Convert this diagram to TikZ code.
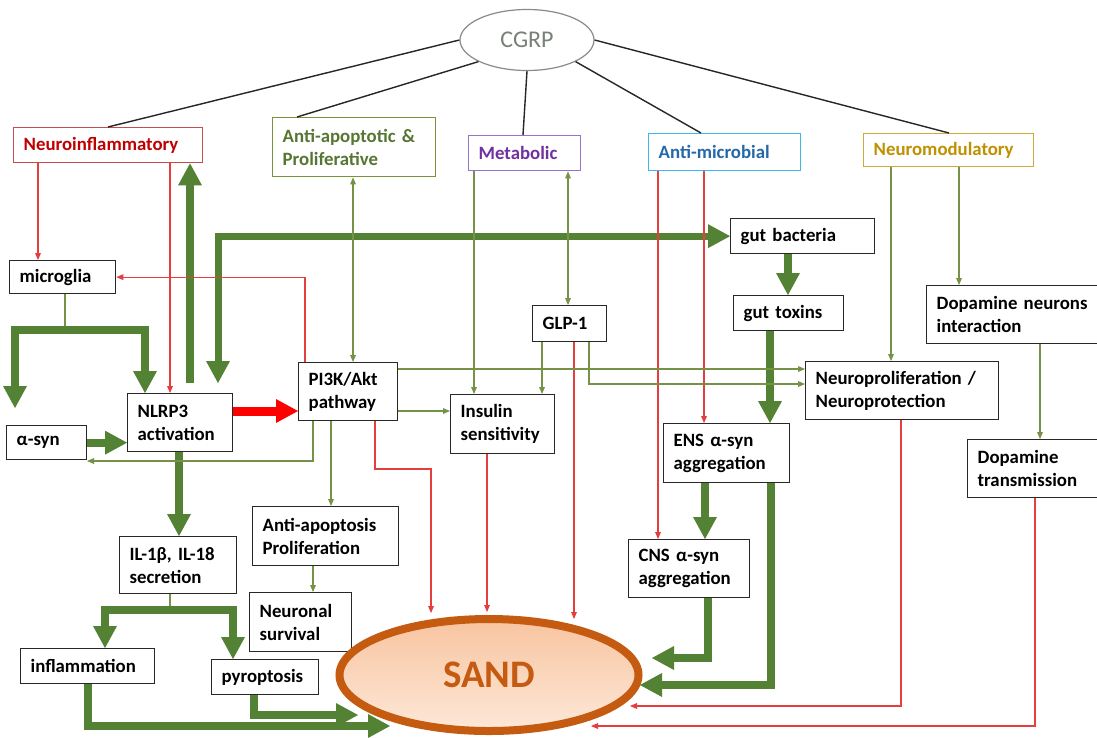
\documentclass[tikz,border=0pt]{standalone}
\usepackage{fontspec}
\setmainfont{Carlito}
\usetikzlibrary{arrows.meta,shapes.geometric}
\definecolor{tgreen}{RGB}{84,130,53}
\definecolor{lgreen}{RGB}{118,146,70}
\definecolor{tred}{RGB}{228,62,62}
\definecolor{boxline}{RGB}{40,40,40}
\definecolor{nired}{RGB}{192,0,0}
\definecolor{niredb}{RGB}{192,80,77}
\definecolor{apgreen}{RGB}{86,118,50}
\definecolor{apgreenb}{RGB}{119,147,60}
\definecolor{mpurple}{RGB}{112,48,160}
\definecolor{mpurpleb}{RGB}{150,115,205}
\definecolor{amblue}{RGB}{36,104,170}
\definecolor{amblueb}{RGB}{60,185,235}
\definecolor{nmgold}{RGB}{191,144,0}
\definecolor{nmgoldb}{RGB}{205,170,60}
\definecolor{cgrpgray}{RGB}{120,128,120}
\definecolor{sandc}{RGB}{197,90,17}
\definecolor{sandtop}{RGB}{248,196,160}
\definecolor{sandbot}{RGB}{253,232,216}
\newcommand\labfont{\bfseries\fontsize{18.8}{23}\selectfont\hyphenpenalty=10000\exhyphenpenalty=10000 }
\begin{document}
\begin{tikzpicture}[x=1pt,y=-1pt,
  bx/.style={draw=boxline, line width=1.3pt, fill=white, anchor=north west,
    inner xsep=10pt, inner ysep=1pt, align=left, font=\labfont},
  cat/.style={bx, line width=1.4pt},
  thinR/.style={draw=tred, line width=1.2pt, -{Triangle[width=6pt,length=7pt,line width=0pt]}},
  thinG/.style={draw=lgreen, line width=1.3pt, -{Triangle[width=6pt,length=7pt,line width=0pt]}},
  thinGB/.style={draw=lgreen, line width=1.3pt, {Triangle[width=6pt,length=7pt,line width=0pt]}-{Triangle[width=6pt,length=7pt,line width=0pt]}},
  plainG/.style={draw=lgreen, line width=1.3pt},
  thickG/.style={draw=tgreen, line width=8pt, -{Triangle[width=24pt,length=22pt,line width=0pt]}},
  thickGB/.style={draw=tgreen, line width=8pt, {Triangle[width=24pt,length=22pt,line width=0pt]}-{Triangle[width=24pt,length=22pt,line width=0pt]}},
  thickR/.style={draw=red, line width=9pt, -{Triangle[width=24pt,length=22pt,line width=0pt]}},
  cgline/.style={draw=black!85, line width=1.4pt}]
\useasboundingbox (0,0) rectangle (1097,737);
\fill[white] (0,0) rectangle (1097,737);

% top ellipse
\node[ellipse, draw=cgrpgray!90, line width=1.2pt, minimum width=134pt, minimum height=61pt,
  inner sep=0pt, text=cgrpgray, font=\fontsize{24}{26}\selectfont] (cgrp) at (527,40) {CGRP};

% category boxes
\node[cat, draw=niredb, text=nired, text width=169pt, minimum height=35pt] (neuroinf) at (13,127) {Neuroinflammatory};
\node[cat, draw=apgreenb, text=apgreen, text width=143pt, minimum height=59pt] (antiapop) at (272,117) {Anti-apoptotic \&\\Proliferative};
\node[cat, draw=mpurpleb, text=mpurple, text width=92pt, minimum height=35pt] (metab) at (468,135) {Metabolic};
\node[cat, draw=amblueb, text=amblue, text width=132pt, minimum height=37pt] (antimic) at (648,133) {Anti-microbial};
\node[cat, draw=nmgoldb, text=nmgold, text width=150pt, minimum height=33pt] (neuromod) at (863,133) {Neuromodulatory};

% process boxes
\node[bx, text width=86pt, minimum height=33pt] (microglia) at (9,260) {microglia};
\node[bx, text width=85pt, minimum height=58pt] (nlrp3) at (127,393) {NLRP3\\activation};
\node[bx, text width=60pt, minimum height=34pt] (alphasyn) at (6,425) {α-syn};
\node[bx, text width=79pt, minimum height=58pt] (pi3k) at (298,362) {PI3K/Akt\\pathway};
\node[bx, text width=84pt, minimum height=59pt] (insulin) at (450,394) {Insulin\\sensitivity};
\node[bx, text width=54pt, minimum height=36pt] (glp1) at (532,305) {GLP-1};
\node[bx, text width=124pt, minimum height=35pt] (gutbact) at (730,218) {gut bacteria};
\node[bx, text width=90pt, minimum height=35pt] (guttox) at (733,295) {gut toxins};
\node[bx, text width=160pt, minimum height=58pt] (dopneur) at (926,285) {Dopamine neurons\\interaction};
\node[bx, text width=173pt, minimum height=58pt] (neuroprolif) at (805,361) {Neuroproliferation /\\Neuroprotection};
\node[bx, text width=106pt, minimum height=59pt] (ens) at (663,423) {ENS α-syn\\aggregation};
\node[bx, text width=120pt, minimum height=58pt] (doptrans) at (967,439) {Dopamine\\transmission};
\node[bx, text width=97pt, minimum height=57pt] (il) at (119,536) {IL-1β, IL-18\\secretion};
\node[bx, text width=126pt, minimum height=59pt] (antiapo2) at (252,506) {Anti-apoptosis\\Proliferation};
\node[bx, text width=82pt, minimum height=59pt] (survival) at (249,592) {Neuronal\\survival};
\node[bx, text width=101pt, minimum height=58pt] (cns) at (628,539) {CNS α-syn\\aggregation};
\node[bx, text width=114pt, minimum height=35pt] (inflam) at (20,648) {inflammation};
\node[bx, text width=87pt, minimum height=35pt] (pyro) at (211,659) {pyroptosis};

% SAND
\node[ellipse, draw=sandc, line width=8pt, minimum width=299pt, minimum height=112pt, inner sep=0pt,
  top color=sandtop, bottom color=sandbot, text=sandc, font=\bfseries\fontsize{39}{40}\selectfont] (sand) at (489,675) {SAND};

% free ends
\coordinate (upstart) at (190,383);
\coordinate (dnstart) at (218,383);
\coordinate (msplit) at (65,330);
\coordinate (asyntop) at (15,408);
\coordinate (asyntip) at (87,461);
\coordinate (ilsplit) at (170,610);
\coordinate (tipPI) at (431,613);
\coordinate (tipIN) at (487,612);
\coordinate (tipGL) at (574,619);
\coordinate (tipCNS) at (652,658);
\coordinate (tipENS) at (640,685);
\coordinate (tipNP) at (630,706);
\coordinate (tipDT) at (591,726);
\coordinate (tipPY) at (358,715);
\coordinate (tipIF) at (390,726);

% CGRP lines
\draw[cgline] (cgrp.west) -- (neuroinf.north -| 108,0);
\draw[cgline] (cgrp.204) -- (antiapop.north -| 297,0);
\draw[cgline] (cgrp.south) -- (metab.north -| 523,0);
\draw[cgline] (cgrp.336) -- (antimic.north -| 701,0);
\draw[cgline] (cgrp.east) -- (neuromod.north -| 949,0);

% thin connectors below thick ones
\draw[plainG] (microglia.south -| msplit) -- (msplit);
\draw[plainG] (il.south -| ilsplit) -- (ilsplit);

% thick green connectors
\draw[thickG] (upstart) -- (neuroinf.south -| upstart);
\draw[thickGB, line width=7pt] (dnstart) |- (gutbact.west);
\draw[thickG] (msplit) -| (asyntop);
\draw[thickG] (msplit) -| (nlrp3.north -| 145,0);
\draw[thickG] (alphasyn.east) -- (nlrp3.west |- alphasyn.east);
\draw[thickR] (nlrp3.east |- 0,411) -- (pi3k.west |- 0,411);
\draw[thickG] (nlrp3.south -| 179,0) -- (il.north -| 179,0);
\draw[thickG] (ilsplit) -| (inflam.north -| 105,0);
\draw[thickG] (ilsplit) -| (pyro.north -| 233,0);
\draw[thickG] (inflam.south -| 88,0) |- (tipIF);
\draw[thickG] (pyro.south -| 254,0) |- (tipPY);
\draw[thickG] (gutbact.south -| 788,0) -- (guttox.north -| 788,0);
\draw[thickG] (guttox.south -| 770,0) -- (ens.north -| 770,0);
\draw[thickG] (ens.south -| 705,0) -- (cns.north -| 705,0);
\draw[thickG] (cns.south -| 708,0) |- (tipCNS);
\draw[thickG] (ens.south -| 771,0) |- (tipENS);

% thin red connectors
\draw[thinR] (neuroinf.south -| 38,0) -- (microglia.north -| 38,0);
\draw[thinR] (neuroinf.south -| 170,0) -- (nlrp3.north -| 170,0);
\draw[thinR] (pi3k.north -| 305,0) |- (microglia.east);
\draw[thinR] (pi3k.south -| 375,0) |- (431,469) -- (tipPI);
\draw[thinR] (insulin.south -| tipIN) -- (tipIN);
\draw[thinR] (glp1.south -| tipGL) -- (tipGL);
\draw[thinR] (antimic.south -| 704,0) -- (ens.north -| 704,0);
\draw[thinR] (antimic.south -| 658,0) -- (cns.north -| 658,0);
\draw[thinR] (neuroprolif.south -| 901,0) |- (tipNP);
\draw[thinR] (doptrans.south -| 1035,0) |- (tipDT);

% thin green connectors
\draw[thinGB] (antiapop.south -| 353,0) -- (pi3k.north -| 353,0);
\draw[thinG] (pi3k.south -| 313,0) |- (asyntip);
\draw[thinG] (pi3k.south -| 331,0) -- (antiapo2.north -| 331,0);
\draw[thinG] (antiapo2.south -| 313,0) -- (survival.north -| 313,0);
\draw[thinG] (pi3k.east |- 0,411) -- (insulin.west |- 0,411);
\draw[thinG] (pi3k.east |- 0,369) -- (neuroprolif.west |- 0,369);
\draw[thinG] (glp1.south -| 589,0) |- (neuroprolif.west |- 0,384);
\draw[thinG] (glp1.south -| 542,0) -- (insulin.north -| 542,0);
\draw[thinG] (metab.south -| 474,0) -- (insulin.north -| 474,0);
\draw[thinGB] (metab.south -| 568,0) -- (glp1.north -| 568,0);
\draw[thinG] (neuromod.south -| 891,0) -- (neuroprolif.north -| 891,0);
\draw[thinG] (neuromod.south -| 959,0) -- (dopneur.north -| 959,0);
\draw[thinG] (dopneur.south -| 1040,0) -- (doptrans.north -| 1040,0);
\end{tikzpicture}
\end{document}
